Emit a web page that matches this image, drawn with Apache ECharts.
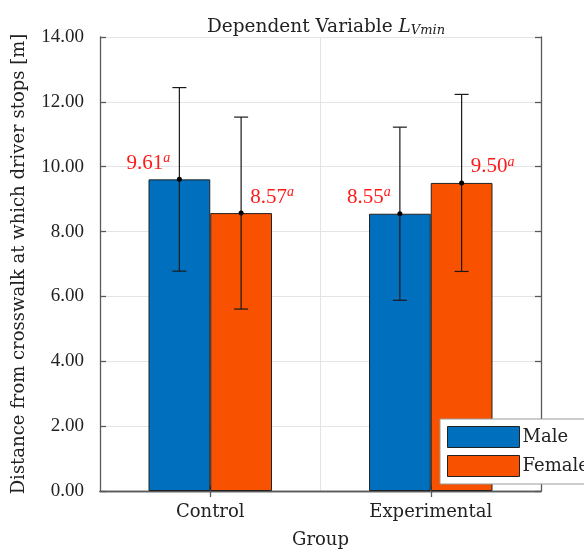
<!DOCTYPE html>
<html>
<head>
<meta charset="utf-8">
<script src="https://cdn.jsdelivr.net/npm/echarts@6/dist/echarts.min.js"></script>
<style>html,body{margin:0;padding:0;background:#fff}#c{width:584px;height:554px}</style>
</head>
<body>
<div id="c"></div>
<script>
const categories = ['Control', 'Experimental'];
const seriesNames = ['Male', 'Female'];
const maleMeans = [9.61, 8.55];
const femaleMeans = [8.57, 9.50];
const maleErr = [2.83, 2.67];
const femaleErr = [2.96, 2.73];
const yTicks = [0, 2, 4, 6, 8, 10, 12, 14];

const BLUE = '#0070BE';
const ORANGE = '#F85200';
const BAR_FRAC = 0.28;
const SERIF = '"DejaVu Serif", serif';
const NUM = '"Liberation Serif", serif';

const chart = echarts.init(document.getElementById('c'), null, {renderer: 'canvas'});

function labelFor(side) {
  return {
    show: true,
    position: 'top',
    distance: 4,
    offset: [side * 31, 0],
    formatter: p => '{v|' + p.value.toFixed(2) + '}{s|a}',
    rich: {
      v: {fontFamily: NUM, fontSize: 21, color: '#FF1A1A'},
      s: {fontFamily: NUM, fontSize: 14, fontStyle: 'italic', color: '#FF1A1A', padding: [0, 0, 10, 0]}
    }
  };
}

const errData = [];
categories.forEach((c, i) => {
  errData.push([i, maleMeans[i], maleErr[i], 0]);
  errData.push([i, femaleMeans[i], femaleErr[i], 1]);
});

function renderErr(params, api) {
  const ci = api.value(0), m = api.value(1), e = api.value(2), s = api.value(3);
  const band = api.size([1, 0])[0];
  const bw = band * BAR_FRAC;
  const c = api.coord([ci, m]);
  const x = c[0] + (s === 0 ? -bw / 2 : bw / 2);
  const yTop = api.coord([ci, m + e])[1];
  const yBot = api.coord([ci, m - e])[1];
  const cap = 7;
  const st = {stroke: '#1a1a1a', lineWidth: 1.2};
  return {
    type: 'group',
    children: [
      {type: 'line', shape: {x1: x, y1: yTop, x2: x, y2: yBot}, style: st},
      {type: 'line', shape: {x1: x - cap, y1: yTop, x2: x + cap, y2: yTop}, style: st},
      {type: 'line', shape: {x1: x - cap, y1: yBot, x2: x + cap, y2: yBot}, style: st},
      {type: 'circle', shape: {cx: x, cy: c[1], r: 2.5}, style: {fill: '#000'}}
    ]
  };
}

const axisLineStyle = {color: '#5a5a5a', width: 1.3};

chart.setOption({
  animation: false,
  backgroundColor: '#fff',
  title: {
    text: '{n|Dependent Variable }{i|L}{sub|Vmin}',
    left: 321,
    top: 13,
    textAlign: 'center',
    textStyle: {
      fontWeight: 'normal',
      rich: {
        n: {fontFamily: SERIF, fontSize: 18.5, fontWeight: 'normal', color: '#222'},
        i: {fontFamily: SERIF, fontSize: 18.5, fontWeight: 'normal', fontStyle: 'italic', color: '#222'},
        sub: {fontFamily: SERIF, fontSize: 13, fontWeight: 'normal', fontStyle: 'italic', color: '#222', padding: [6, 0, 0, 0]}
      }
    }
  },
  legend: {
    data: seriesNames,
    orient: 'vertical',
    left: 440,
    top: 419,
    padding: [7, 120, 7, 7],
    icon: 'rect',
    itemWidth: 72,
    itemHeight: 21,
    itemGap: 7,
    backgroundColor: '#fff',
    borderColor: '#9a9a9a',
    borderWidth: 1,
    textStyle: {fontFamily: SERIF, fontSize: 18, color: '#222', padding: [0, 0, 0, -2]},
    itemStyle: {borderColor: '#222', borderWidth: 1}
  },
  grid: {left: 100, right: 43, top: 37, bottom: 58, containLabel: false},
  xAxis: [{
    type: 'category',
    data: categories,
    boundaryGap: true,
    name: 'Group',
    nameLocation: 'middle',
    nameGap: 40,
    nameTextStyle: {fontFamily: SERIF, fontSize: 18, color: '#222'},
    axisLine: {lineStyle: axisLineStyle},
    axisTick: {show: true, inside: true, alignWithLabel: true, length: 6, lineStyle: axisLineStyle},
    axisLabel: {fontFamily: SERIF, fontSize: 18, color: '#222', margin: 12},
    splitLine: {show: true, lineStyle: {color: '#e4e4e4'}}
  }, {
    type: 'category',
    data: categories,
    position: 'top',
    boundaryGap: true,
    axisLine: {lineStyle: axisLineStyle},
    axisTick: {show: true, inside: true, alignWithLabel: true, length: 6, lineStyle: axisLineStyle},
    axisLabel: {show: false},
    splitLine: {show: false}
  }],
  yAxis: [{
    type: 'value',
    min: 0,
    max: 14,
    interval: 2,
    name: 'Distance from crosswalk at which driver stops [m]',
    nameLocation: 'middle',
    nameGap: 72,
    nameTextStyle: {fontFamily: SERIF, fontSize: 18, color: '#222'},
    axisLine: {show: true, lineStyle: axisLineStyle},
    axisTick: {show: true, inside: true, length: 6, lineStyle: axisLineStyle},
    axisLabel: {fontFamily: NUM, fontSize: 19, color: '#222', margin: 16, formatter: v => v.toFixed(2)},
    splitLine: {show: true, lineStyle: {color: '#e4e4e4'}}
  }, {
    type: 'value',
    min: 0,
    max: 14,
    interval: 2,
    position: 'right',
    axisLine: {show: true, lineStyle: axisLineStyle},
    axisTick: {show: true, inside: true, length: 6, lineStyle: axisLineStyle},
    axisLabel: {show: false},
    splitLine: {show: false}
  }],
  series: [{
    name: seriesNames[0],
    type: 'bar',
    data: maleMeans,
    barWidth: (BAR_FRAC * 100) + '%',
    barGap: '0%',
    itemStyle: {color: BLUE, borderColor: '#222', borderWidth: 1},
    label: labelFor(-1),
    z: 2
  }, {
    name: seriesNames[1],
    type: 'bar',
    data: femaleMeans,
    barWidth: (BAR_FRAC * 100) + '%',
    barGap: '0%',
    itemStyle: {color: ORANGE, borderColor: '#222', borderWidth: 1},
    label: labelFor(1),
    z: 2
  }, {
    type: 'custom',
    renderItem: renderErr,
    data: errData,
    encode: {x: 0, y: 1},
    z: 5,
    silent: true
  }]
});
</script>
</body>
</html>
